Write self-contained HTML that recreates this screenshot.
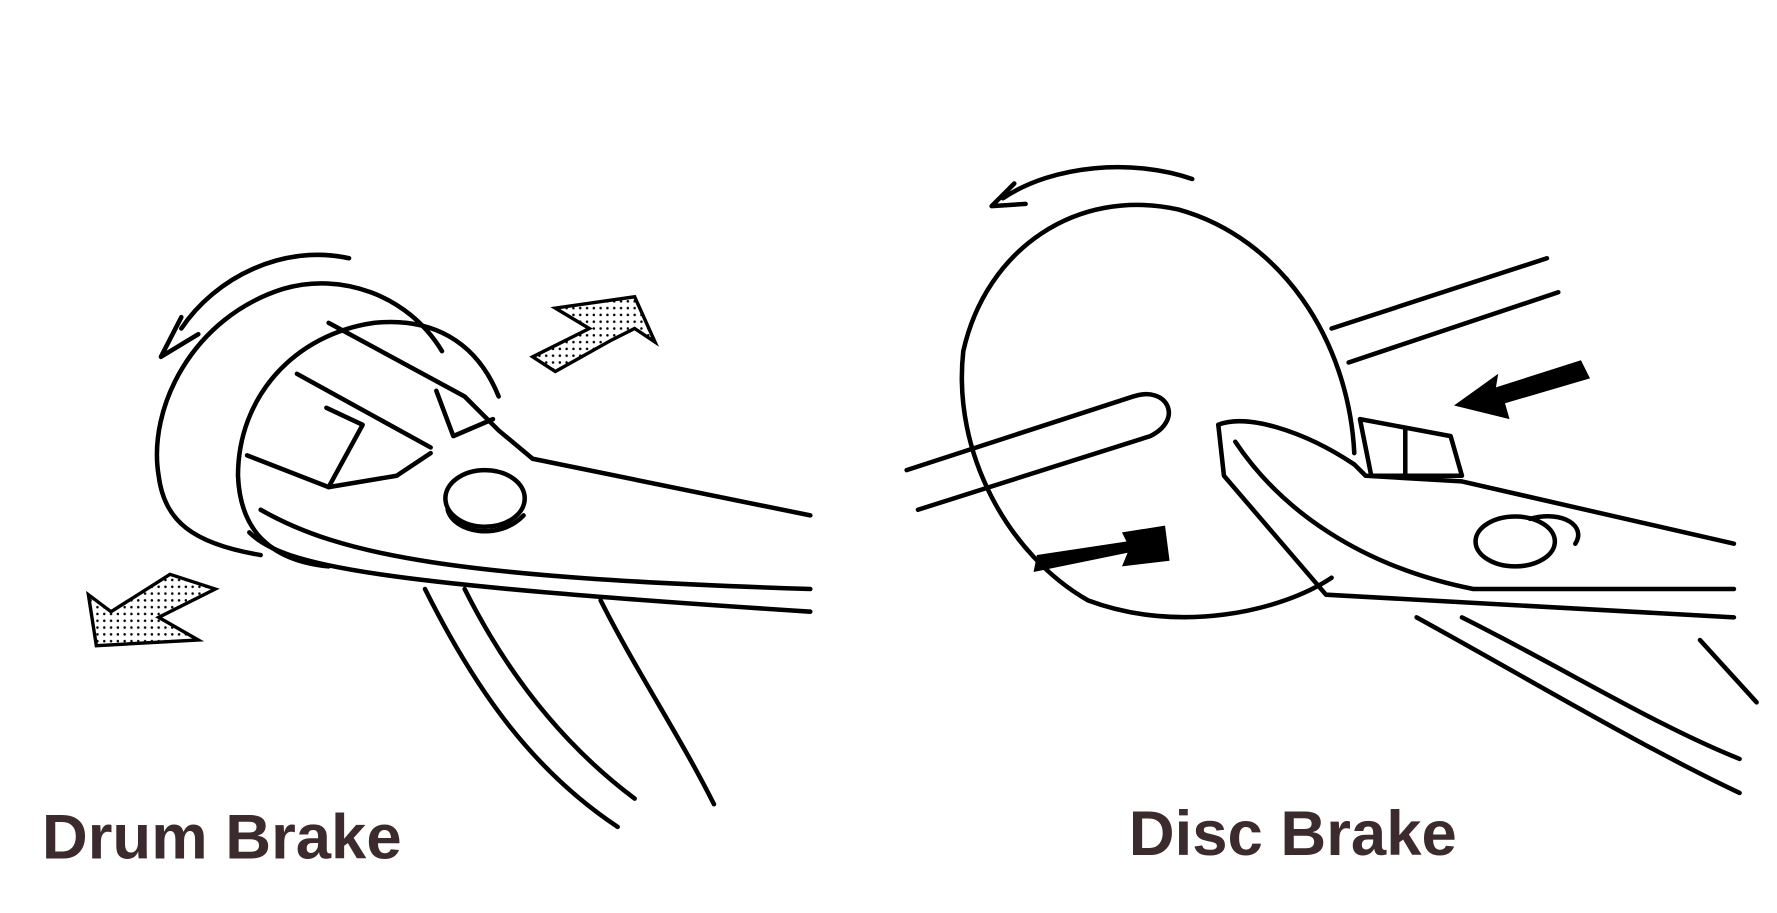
<!DOCTYPE html>
<html><head><meta charset="utf-8"><style>
html,body{margin:0;padding:0;background:#fff;width:1777px;height:913px;overflow:hidden}
svg{display:block}
text{font-family:"Liberation Sans",sans-serif;font-weight:bold;fill:#3b2b2f}
</style></head><body>
<svg width="1777" height="913" viewBox="0 0 1568 806" preserveAspectRatio="none">
<defs><pattern id="dots" width="6" height="6" patternUnits="userSpaceOnUse"><circle cx="2" cy="2" r="1.1" fill="#000"/></pattern></defs>
<g fill="none" stroke="#000" stroke-width="4" stroke-linecap="round" stroke-linejoin="round">
 <path d="M308 228 C250 215 190 245 160 290"/>
 <path d="M160 280 L142 315 L175 295"/>
 <path d="M390 310 C360 260 300 240 250 255 C170 280 130 360 140 420 C145 460 170 480 230 490"/>
 <path d="M440 350 C420 300 380 280 330 285 C260 295 210 350 210 420 C212 470 240 495 290 500"/>
 <path d="M290 285 L410 350 L440 380 L470 405"/>
 <path d="M262 330 L380 395"/>
 <path d="M218 402 L290 430"/>
 <path d="M288 360 L320 375 L290 430 L350 420 L380 400"/>
 <path d="M385 345 L400 385 L435 370"/>
 <path d="M470 405 L715 455"/>
 <path d="M230 450 C300 490 400 510 715 520"/>
 <path d="M220 470 C250 500 330 515 715 540"/>
 <ellipse cx="428" cy="440" rx="35" ry="25"/>
 <path d="M395 450 C400 470 440 478 462 455"/>
 <path d="M375 520 C420 610 470 680 545 730"/>
 <path d="M410 520 C450 600 500 660 560 705"/>
 <path d="M530 530 C560 590 600 650 630 710"/>
</g>
<path d="M470 315 L520 290 L490 272 L560 262 L578 302 L560 290 L540 300 L490 328 Z" fill="url(#dots)" stroke="#000" stroke-width="3"/>
<path d="M190 520 L140 545 L175 565 L85 570 L78 525 L98 540 L150 507 Z" fill="url(#dots)" stroke="#000" stroke-width="3"/>
<g fill="none" stroke="#000" stroke-width="4" stroke-linecap="round" stroke-linejoin="round">
 <path d="M1052 158 C1000 140 930 145 885 175"/>
 <path d="M895 162 L875 182 L905 180"/>
 <path d="M1195 400 C1190 300 1130 210 1040 185 C950 165 870 220 850 310 C840 400 890 490 960 530 C1040 560 1130 540 1175 510"/>
 <path d="M1175 290 L1365 228"/>
 <path d="M1190 320 L1375 258"/>
 <path d="M800 415 L1000 350 C1030 340 1045 370 1015 385 L810 450"/>
 <path d="M1075 375 L1080 420 L1170 525 L1530 545"/>
 <path d="M1075 375 C1100 365 1150 380 1195 410 L1205 420 L1290 425 L1530 480"/>
 <path d="M1090 390 C1130 450 1200 500 1300 520 L1530 520"/>
 <path d="M1200 370 L1280 385 L1290 420 L1210 420 Z"/>
 <path d="M1240 378 L1240 420"/>
 <ellipse cx="1337" cy="478" rx="35" ry="22"/>
 <path d="M1350 458 C1380 450 1400 465 1390 480"/>
 <path d="M1250 545 C1350 600 1450 660 1535 700"/>
 <path d="M1290 545 C1380 590 1460 640 1535 670"/>
 <path d="M1500 565 L1550 620"/>
</g>
<path d="M1283 358 L1322 330 L1320 342 L1395 318 L1403 334 L1328 356 L1332 370 Z" fill="#000"/>
<path d="M912 505 L995 488 L990 500 L1032 495 L1028 464 L990 470 L994 478 L915 490 Z" fill="#000"/>
<text x="37" y="758" font-size="56">Drum Brake</text>
<text x="996" y="755" font-size="56">Disc Brake</text>
</svg>
</body></html>
